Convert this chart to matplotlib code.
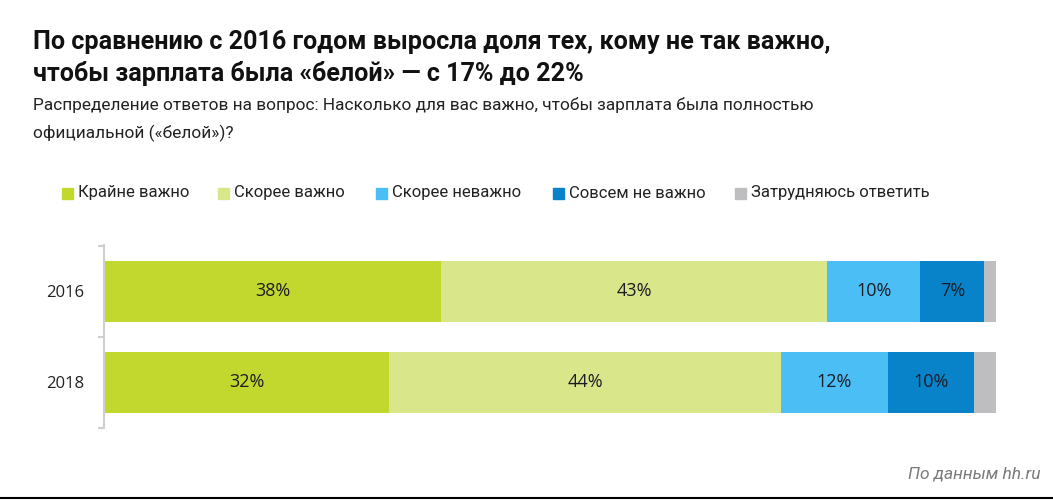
import matplotlib
matplotlib.use("Agg")
import matplotlib.pyplot as plt
from matplotlib.lines import Line2D
from matplotlib.patches import Rectangle

years = ["2016", "2018"]
categories = ["Крайне важно", "Скорее важно", "Скорее неважно",
              "Совсем не важно", "Затрудняюсь ответить"]
values = {
    "2016": [37.8, 43.3, 10.4, 7.2, 1.3],
    "2018": [32.0, 43.9, 12.0, 9.6, 2.5],
}
labels = {
    "2016": ["38%", "43%", "10%", "7%", ""],
    "2018": ["32%", "44%", "12%", "10%", ""],
}
colors = ["#c2d82e", "#dae68a", "#4bbef5", "#0882c8", "#bebec0"]

title = ("По сравнению с 2016 годом выросла доля тех, кому не так важно,\n"
         "чтобы зарплата была «белой» — с 17% до 22%")
subtitle_1 = "Распределение ответов на вопрос: Насколько для вас важно, чтобы зарплата была полностью"
subtitle_2 = "официальной («белой»)?"
source = "По данным hh.ru"

W, H = 1053, 500
fig = plt.figure(figsize=(W / 100, H / 100), dpi=100)
fig.patch.set_facecolor("white")

def fx(px):
    return px / W

def fy(py):
    return 1 - py / H

# axes
ax_left, ax_right = 104, 996
ax_top, ax_bot = 245, 428
ax = fig.add_axes([fx(ax_left), fy(ax_bot), fx(ax_right - ax_left), (ax_bot - ax_top) / H])

for i, yr in enumerate(years):
    left = 0
    for j, v in enumerate(values[yr]):
        ax.barh(i, v, left=left, height=0.67, color=colors[j], edgecolor="none")
        if labels[yr][j]:
            ax.text(left + v / 2, i, labels[yr][j], ha="center", va="center",
                    fontsize=13, color="#1c1c24", family="Open Sans")
        left += v

ax.set_xlim(0, sum(values["2016"]))
ax.set_ylim(1.5, -0.51)
for s in ["top", "right", "bottom"]:
    ax.spines[s].set_visible(False)
ax.spines["left"].set_color("#cfcfcf")
ax.spines["left"].set_linewidth(1.5)
ax.set_xticks([])
ax.set_yticks([0, 1])
ax.set_yticklabels(years, family="Open Sans", fontsize=12, color="#222222")
ax.tick_params(axis="y", which="major", length=0, pad=14)
ax.set_yticks([-0.5, 0.5, 1.5], minor=True)
ax.tick_params(axis="y", which="minor", length=4, width=1.5, color="#cfcfcf")

# title
fig.text(fx(33), fy(42), title.split("\n")[0], fontsize=18.1, fontweight="bold",
         family="Roboto", color="#111111", va="center", ha="left")
fig.text(fx(33), fy(74), title.split("\n")[1], fontsize=18.1, fontweight="bold",
         family="Roboto", color="#111111", va="center", ha="left")
fig.text(fx(33), fy(105), subtitle_1, fontsize=12.4, family="Roboto",
         color="#222222", va="center", ha="left")
fig.text(fx(33), fy(133), subtitle_2, fontsize=12.4, family="Roboto",
         color="#222222", va="center", ha="left")

# legend
leg_x = [62, 218, 376, 553, 735]
for x, c, lab in zip(leg_x, colors, categories):
    fig.patches.append(Rectangle((fx(x), fy(199)), fx(11), 11 / H,
                                 transform=fig.transFigure, color=c))
    fig.text(fx(x + 16), fy(193), lab, fontsize=12, family="Roboto",
             color="#222222", va="center", ha="left")

# source
fig.text(fx(1040), fy(474), source, fontsize=12.5, family="Roboto",
         style="italic", color="#7a7a7a", va="center", ha="right")

# bottom rule
fig.lines.append(Line2D([0, 1], [fy(498), fy(498)], transform=fig.transFigure,
                        color="#000000", linewidth=1.5))

fig.savefig("out.png", dpi=100, facecolor="white")
